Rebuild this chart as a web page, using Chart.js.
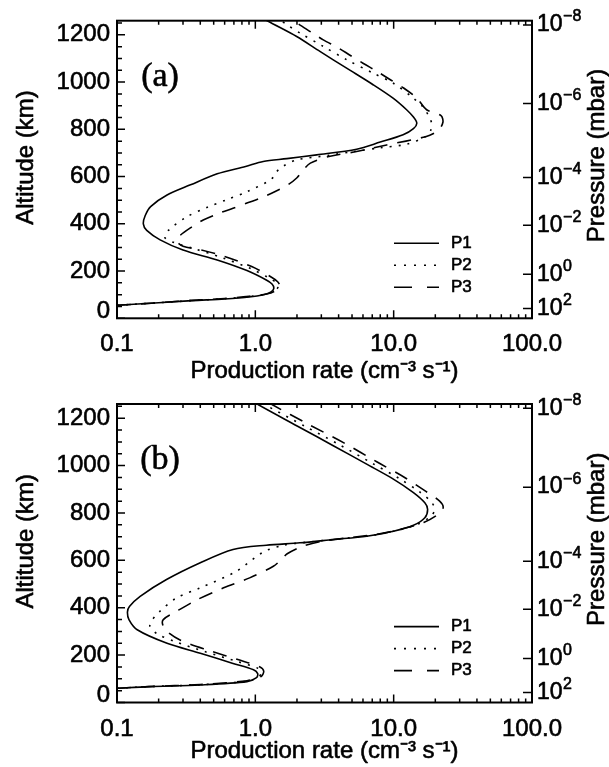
<!DOCTYPE html>
<html><head><meta charset="utf-8">
<script src="https://cdn.jsdelivr.net/npm/chart.js@4.4.1/dist/chart.umd.min.js"></script>
<style>
html,body{margin:0;padding:0;background:#fff;}
#wrap{position:relative;width:609px;height:767px;overflow:hidden;background:#fff}
.pane{position:absolute;left:0;width:609px;}
canvas{display:block}
</style></head><body>
<div id="wrap">
<div class="pane" style="top:0;height:384px"><canvas id="ca" width="609" height="384"></canvas></div>
<div class="pane" style="top:384px;height:383px"><canvas id="cb" width="609" height="383"></canvas></div>
</div>
<script>
// ---------- data ----------
const seriesNames = ['P1', 'P2', 'P3'];
const rateTicks = [0.1, 1, 10, 100];
const rateTickLabels = ['0.1', '1.0', '10.0', '100.0'];
const altTicks = [0, 200, 400, 600, 800, 1000, 1200];
const pressureBase = '10';
const pressureExponents = ['−8', '−6', '−4', '−2', '0', '2'];
const pressureAlts = [1242, 909, 596, 394, 186, 42];

// panel (a)
const rateA_P1 = [0.1, 0.2, 0.35, 0.6, 0.9, 1.15, 1.3, 1.36, 1.32, 1.2, 0.87, 0.53, 0.30, 0.205, 0.164, 0.155, 0.16, 0.175, 0.23, 0.34, 0.53, 0.85, 1.14, 1.69, 2.78, 5.4, 8.0, 11.7, 13.9, 14.7, 13.9, 12.4, 9.9, 7.1, 4.57, 2.93, 1.99, 1.21, 1.05];
const altA_P1  = [55, 66, 75, 82, 90, 100, 112, 127, 145, 162, 202, 247, 289, 332, 372, 400, 435, 473, 522, 565, 612, 643, 664, 676, 692, 716, 746, 777, 803, 826, 852, 883, 932, 989, 1059, 1130, 1193, 1261, 1285];
const rateA_P2 = [0.1, 0.2, 0.35, 0.6, 0.9, 1.2, 1.38, 1.46, 1.42, 1.28, 0.93, 0.58, 0.36, 0.26, 0.222, 0.235, 0.32, 0.45, 0.62, 0.87, 1.3, 1.42, 1.6, 2.0, 3.4, 5.1, 8.0, 12.4, 17.0, 18.5, 18.8, 18.0, 16.2, 13.9, 9.9, 7.1, 4.57, 3.1, 2.1, 1.69, 1.5];
const altA_P2  = [55, 66, 75, 83, 92, 103, 116, 133, 150, 168, 210, 256, 295, 320, 342, 372, 430, 470, 502, 536, 588, 620, 645, 671, 690, 706, 722, 737, 769, 795, 825, 855, 897, 932, 996, 1038, 1095, 1151, 1208, 1243, 1265];
const rateA_P3 = [0.1, 0.2, 0.35, 0.6, 0.9, 1.25, 1.43, 1.5, 1.45, 1.3, 0.95, 0.6, 0.4, 0.3, 0.272, 0.28, 0.35, 0.42, 0.56, 0.69, 0.89, 1.08, 1.38, 1.72, 2.0, 2.2, 2.5, 3.4, 5.4, 8.9, 17.0, 21.0, 22.7, 22.0, 17.3, 14.7, 11.8, 9.4, 7.6, 6.0, 4.8, 4.0, 3.1, 2.6, 2.0, 1.8];
const altA_P3  = [55, 66, 76, 84, 93, 105, 120, 137, 155, 175, 218, 262, 290, 305, 325, 346, 388, 416, 447, 466, 490, 508, 536, 565, 595, 625, 657, 685, 706, 734, 769, 795, 830, 858, 883, 932, 975, 1011, 1045, 1080, 1115, 1144, 1179, 1207, 1250, 1265];

// panel (b)
const rateB_P1 = [0.1, 0.17, 0.4, 0.87, 1.02, 1.04, 0.97, 0.69, 0.40, 0.23, 0.14, 0.122, 0.119, 0.123, 0.147, 0.228, 0.40, 0.69, 1.2, 2.1, 3.66, 6.38, 9.95, 13.9, 16.8, 17.6, 16.8, 13.9, 9.95, 6.38, 3.66, 2.1, 1.03, 0.95];
const altB_P1  = [60, 67, 74, 88, 105, 122, 138, 165, 208, 250, 307, 350, 382, 405, 448, 519, 590, 646, 664, 674, 688, 702, 723, 748, 780, 815, 843, 886, 943, 1006, 1084, 1161, 1260, 1275];
const rateB_P2 = [0.1, 0.17, 0.4, 0.87, 1.06, 1.1, 1.04, 0.75, 0.43, 0.26, 0.195, 0.173, 0.178, 0.204, 0.27, 0.40, 0.73, 1.14, 1.6, 2.4, 3.9, 6.8, 10.5, 14.8, 18.5, 19.8, 18.8, 15.5, 11.0, 7.0, 4.0, 2.3, 1.15, 1.05];
const altB_P2  = [60, 67, 75, 90, 108, 128, 145, 172, 215, 258, 290, 322, 345, 385, 442, 484, 554, 635, 664, 677, 690, 704, 726, 752, 785, 815, 845, 888, 945, 1010, 1090, 1165, 1260, 1275];
const rateB_P3 = [0.1, 0.17, 0.4, 0.87, 1.1, 1.15, 1.08, 0.78, 0.45, 0.29, 0.235, 0.215, 0.216, 0.27, 0.38, 0.59, 0.91, 1.35, 1.55, 1.7, 2.2, 3.0, 4.5, 7.5, 11.5, 16.5, 21.0, 22.8, 21.5, 17.0, 12.0, 7.6, 4.4, 2.5, 1.3, 1.2];
const altB_P3  = [60, 67, 76, 92, 110, 132, 150, 178, 222, 262, 295, 325, 350, 385, 434, 484, 526, 575, 605, 628, 660, 680, 694, 710, 732, 760, 795, 823, 850, 892, 950, 1015, 1095, 1170, 1260, 1275];

// ---------- styling ----------
const FONT = "'Liberation Sans', Arial, Helvetica, sans-serif";
const TEXT_STROKE = 0.6;
Chart.defaults.font.family = FONT;
Chart.defaults.color = '#000';

const lineStyles = [
  { borderDash: [], legendDash: [] },
  { borderDash: [2, 7], legendDash: [2, 8] },
  { borderDash: [14, 10], legendDash: [18, 15] }
];

function pts(r, a) { return r.map((v, i) => ({ x: v, y: a[i] })); }

function heavyText(ctx, s, x, y) {
  ctx.fillText(s, x, y);
  ctx.strokeText(s, x, y);
}

const decor = {
  id: 'decor',
  afterDraw(chart, args, o) {
    const { ctx, chartArea: a, scales } = chart;
    const xs = scales.x, ys = scales.y, yr = scales.y2;
    const midY = (a.top + a.bottom) / 2;
    ctx.save();
    ctx.strokeStyle = '#000';
    ctx.fillStyle = '#000';
    ctx.lineWidth = 1.5;
    ctx.beginPath();
    const xt = [];
    for (let d = -1; d <= 1; d++) for (let m = 1; m <= 9; m++) xt.push({ v: m * Math.pow(10, d), major: m === 1 });
    xt.push({ v: 100, major: true });
    xt.forEach(t => {
      const px = xs.getPixelForValue(t.v);
      const L = t.major ? 8 : 4;
      ctx.moveTo(px, a.bottom); ctx.lineTo(px, a.bottom - L);
      ctx.moveTo(px, a.top); ctx.lineTo(px, a.top + L);
    });
    for (let v = 0; v <= ys.max; v += 50) {
      const py = ys.getPixelForValue(v);
      const L = v % 200 === 0 ? 8 : 5;
      ctx.moveTo(a.left, py); ctx.lineTo(a.left + L, py);
    }
    pressureAlts.forEach(v => {
      const py = yr.getPixelForValue(v);
      ctx.moveTo(a.right, py); ctx.lineTo(a.right - 9, py);
    });
    ctx.stroke();
    ctx.lineWidth = 2;
    ctx.strokeRect(a.left, a.top, a.right - a.left, a.bottom - a.top);

    ctx.lineWidth = TEXT_STROKE;
    ctx.lineJoin = 'round';

    // right axis tick labels (10 with raised exponent)
    ctx.textAlign = 'left'; ctx.textBaseline = 'middle';
    pressureAlts.forEach((v, i) => {
      const py = yr.getPixelForValue(v);
      const x0 = a.right + 5;
      ctx.font = '23px ' + FONT;
      heavyText(ctx, pressureBase, x0, py);
      const w = ctx.measureText(pressureBase).width;
      ctx.font = '16px ' + FONT;
      heavyText(ctx, pressureExponents[i], x0 + w + 0.5, py - 8);
    });

    // panel label
    ctx.font = "34px 'Liberation Serif', 'Times New Roman', serif";
    ctx.textAlign = 'center'; ctx.textBaseline = 'middle';
    heavyText(ctx, o.panel, a.left + 43, a.top + 56);

    // legend
    ctx.font = '17px ' + FONT;
    ctx.textAlign = 'left';
    chart.data.datasets.forEach((ds, i) => {
      const y = a.top + 222.6 + i * 22;
      ctx.save();
      ctx.lineWidth = 1.6;
      ctx.setLineDash(ds.legendDash);
      ctx.beginPath(); ctx.moveTo(a.left + 277, y); ctx.lineTo(a.left + 322, y); ctx.stroke();
      ctx.restore();
      heavyText(ctx, ds.label, a.left + 334, y);
    });

    // axis titles
    ctx.font = '24px ' + FONT;
    ctx.textAlign = 'center';
    heavyText(ctx, 'Production rate (cm⁻³ s⁻¹)', (a.left + a.right) / 2, o.xTitleY);
    ctx.save();
    ctx.translate(26, midY - 12);
    ctx.rotate(-Math.PI / 2);
    heavyText(ctx, 'Altitude (km)', 0, 0);
    ctx.restore();
    ctx.save();
    ctx.translate(597, midY - 14);
    ctx.rotate(-Math.PI / 2);
    heavyText(ctx, 'Pressure (mbar)', 0, 0);
    ctx.restore();
    ctx.restore();
  }
};

function makeChart(id, panel, series, g) {
  return new Chart(document.getElementById(id), {
    type: 'scatter',
    data: {
      datasets: series.map((s, i) => ({
        label: seriesNames[i],
        data: pts(s[0], s[1]),
        showLine: true,
        pointRadius: 0,
        borderColor: '#000',
        borderWidth: 1.6,
        tension: 0.3,
        borderDash: lineStyles[i].borderDash,
        legendDash: lineStyles[i].legendDash
      }))
    },
    options: {
      responsive: false,
      animation: false,
      events: [],
      layout: { padding: { top: g.top, left: 0, right: 0, bottom: 0 } },
      plugins: { legend: { display: false }, tooltip: { enabled: false }, decor: { panel, xTitleY: g.xTitleY } },
      scales: {
        x: {
          type: 'logarithmic', position: 'bottom', min: 0.1, max: 100,
          grid: { display: false, drawTicks: false }, border: { display: false },
          afterBuildTicks: s => { s.ticks = rateTicks.map(v => ({ value: v })); },
          ticks: { autoSkip: false, maxRotation: 0, padding: 12, font: { size: 24 },
            textStrokeColor: '#000', textStrokeWidth: TEXT_STROKE,
            callback: (v, i) => rateTickLabels[i] },
          afterFit: s => { s.height = g.xh; }
        },
        y: {
          type: 'linear', position: 'left', min: 0, max: 1260,
          grid: { display: false, drawTicks: false }, border: { display: false },
          afterBuildTicks: s => { s.ticks = altTicks.map(v => ({ value: v })); },
          ticks: { autoSkip: false, padding: 7, font: { size: 24, lineHeight: 0.6 },
            textStrokeColor: '#000', textStrokeWidth: TEXT_STROKE,
            callback: v => (v === 0 ? ['0', ''] : String(v)) },
          afterFit: s => { s.width = 117; }
        },
        y2: {
          type: 'linear', position: 'right', min: 0, max: 1260,
          grid: { display: false, drawTicks: false }, border: { display: false },
          afterBuildTicks: s => { s.ticks = pressureAlts.map(v => ({ value: v })); },
          ticks: { display: false },
          afterFit: s => { s.width = 77; }
        }
      }
    },
    plugins: [decor]
  });
}

makeChart('ca', '(a)', [[rateA_P1, altA_P1], [rateA_P2, altA_P2], [rateA_P3, altA_P3]],
  { top: 20.7, xh: 384 - 318.3, xTitleY: 371 });
makeChart('cb', '(b)', [[rateB_P1, altB_P1], [rateB_P2, altB_P2], [rateB_P3, altB_P3]],
  { top: 20, xh: 383 - 318.5, xTitleY: 367 });
</script>
</body></html>
